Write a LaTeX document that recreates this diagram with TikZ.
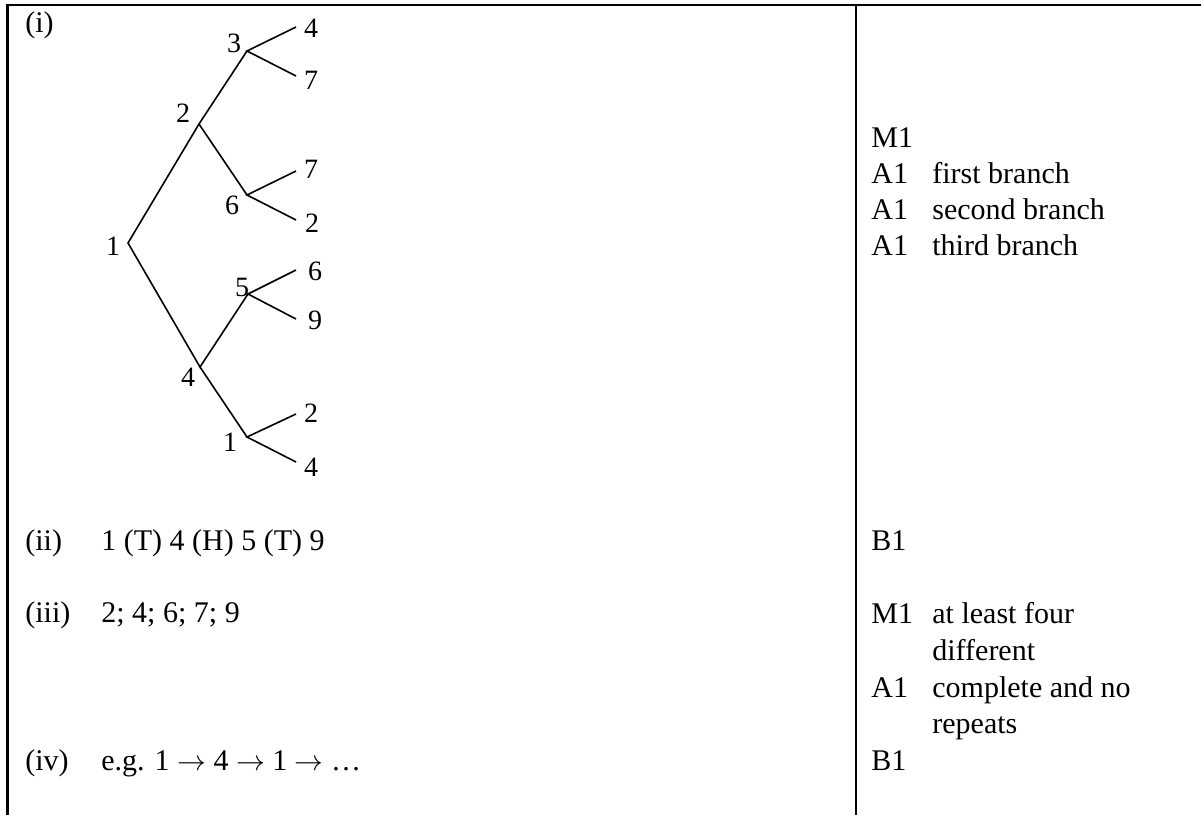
\documentclass[tikz,border=0pt]{standalone}
\usepackage{fontspec}
\setmainfont{Liberation Serif}
\begin{document}
\begin{tikzpicture}[x=0.5pt,y=-0.5pt,
  rule/.style={line width=1.2pt},
  branch/.style={line width=0.8pt},
  txt/.style={font=\fontsize{15}{18}\selectfont, inner sep=0pt, anchor=base west},
  lbl/.style={font=\fontsize{14}{17}\selectfont, inner sep=0pt}]
\useasboundingbox (0,0) rectangle (1201,815);

% table rules
\draw[rule] (7.5,815) -- (7.5,5) -- (1201,5);
\draw[rule] (856,5) -- (856,815);

% part labels and answers
\node[txt] (pi)   at (25,32)  {(i)};
\node[txt] (pii)  at (25,550) {(ii)};
\node[txt] (aii)  at (101,550) {1 (T) 4 (H) 5 (T) 9};
\node[txt] (piii) at (25,622) {(iii)};
\node[txt] (aiii) at (101,622) {2; 4; 6; 7; 9};
\node[txt] (piv)  at (25,770) {(iv)};
\node[txt] (aiv)  at (101,770) {e.g. 1 $\rightarrow$ 4 $\rightarrow$ 1 $\rightarrow$ …};

% marks column
\node[txt] (m1) at (871,147) {M1};
\node[txt] (m2) at (871,183) {A1};
\node[txt] (m3) at (871,219) {A1};
\node[txt] (m4) at (871,255) {A1};
\node[txt] at (932,183) {first branch};
\node[txt] at (932,219) {second branch};
\node[txt] at (932,255) {third branch};
\node[txt] (m5) at (871,550) {B1};
\node[txt] (m6) at (871,623) {M1};
\node[txt] at (932,623) {at least four};
\node[txt] at (932,660) {different};
\node[txt] (m7) at (871,697) {A1};
\node[txt] at (932,697) {complete and no};
\node[txt] at (932,733) {repeats};
\node[txt] (m8) at (871,770) {B1};

% tree junctions
\coordinate (r)  at (128,243);
\coordinate (n2) at (199,124);
\coordinate (n3) at (247,51);
\coordinate (n6) at (247,195);
\coordinate (n4) at (200,367);
\coordinate (n5) at (248,294);
\coordinate (n1) at (247,437);
% leaf ends
\coordinate (l1) at (296,27);
\coordinate (l2) at (296,76);
\coordinate (l3) at (296,171);
\coordinate (l4) at (296,220);
\coordinate (l5) at (296,270);
\coordinate (l6) at (296,319);
\coordinate (l7) at (296,414);
\coordinate (l8) at (296,462);

\draw[branch] (n3) -- (n2) -- (r) -- (n4) -- (n5);
\draw[branch] (n2) -- (n6);
\draw[branch] (n4) -- (n1);
\draw[branch] (l1) -- (n3) -- (l2);
\draw[branch] (l3) -- (n6) -- (l4);
\draw[branch] (l5) -- (n5) -- (l6);
\draw[branch] (l7) -- (n1) -- (l8);

% junction labels
\node[lbl] (tr)  at (113,246) {1};
\node[lbl] (t2)  at (183,113) {2};
\node[lbl] (t3)  at (234,43)  {3};
\node[lbl] (t6)  at (232,205) {6};
\node[lbl] (t4)  at (188,377) {4};
\node[lbl] (t5)  at (242,287) {5};
\node[lbl] (t1)  at (230,442) {1};
% leaf labels
\node[lbl] (e1) at (311,28)  {4};
\node[lbl] (e2) at (311,80)  {7};
\node[lbl] (e3) at (311,169) {7};
\node[lbl] (e4) at (312,223) {2};
\node[lbl] (e5) at (315,271) {6};
\node[lbl] (e6) at (315,320) {9};
\node[lbl] (e7) at (311,413) {2};
\node[lbl] (e8) at (311,467) {4};
\end{tikzpicture}
\end{document}
